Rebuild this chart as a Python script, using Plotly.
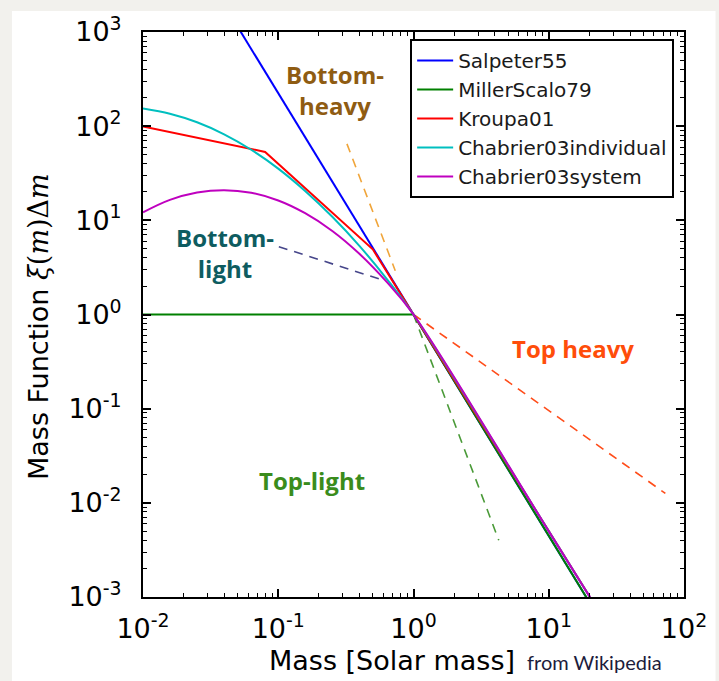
import plotly.graph_objects as go

# ---------------- data ----------------
mass_salpeter = [0.01, 100.0]
xi_salpeter = [50119.0, 1.995e-5]

mass_millerscalo = [0.01, 1.0, 100.0]
xi_millerscalo = [1.0, 1.0, 1.995e-5]

mass_kroupa = [0.01, 0.08, 0.5, 100.0]
xi_kroupa = [99.5, 53.3, 4.92, 2.51e-5]

mass_chabrier = [0.01, 0.0158, 0.0251, 0.0398, 0.0631, 0.1, 0.158, 0.251,
                 0.398, 0.631, 1.0, 10.0, 100.0]
xi_chabrier_ind = [153.7, 135.6, 110.0, 82.0, 56.2, 35.4, 20.5, 10.9,
                   5.36, 2.41, 1.0, 5.01e-3, 2.51e-5]
xi_chabrier_sys = [12.15, 16.47, 19.74, 20.93, 19.61, 16.24, 11.90, 7.71,
                   4.41, 2.23, 1.0, 5.01e-3, 2.51e-5]

# guide (dashed) lines
mass_bottom_heavy = [0.322, 0.733]
xi_bottom_heavy = [64.9, 2.92]
mass_bottom_light = [0.101, 0.61]
xi_bottom_light = [5.25, 2.29]
mass_top_heavy = [1.0, 72.8]
xi_top_heavy = [1.0, 0.0126]
mass_top_light = [1.0, 4.27]
xi_top_light = [1.0, 0.0040]

series_names = ["Salpeter55", "MillerScalo79", "Kroupa01",
                "Chabrier03individual", "Chabrier03system"]
x_tick_vals = [0.01, 0.1, 1, 10, 100]
x_tick_text = ["10<sup>-2</sup>", "10<sup>-1</sup>", "10<sup>0</sup>",
               "10<sup>1</sup>", "10<sup>2</sup>"]
y_tick_vals = [0.001, 0.01, 0.1, 1, 10, 100, 1000]
y_tick_text = ["10<sup>-3</sup>", "10<sup>-2</sup>", "10<sup>-1</sup>",
               "10<sup>0</sup>", "10<sup>1</sup>", "10<sup>2</sup>",
               "10<sup>3</sup>"]

# ---------------- layout geometry ----------------
W, H = 719, 681
L, R, T, B = 143, 692, 31, 597


def px(x):
    return (x - L) / (R - L)


def py(y):
    return (B - y) / (B - T)


fig = go.Figure()

colors = ["#0000ff", "#008000", "#ff0000", "#00bfbf", "#bf00bf"]

# dashed guides
for xs, ys, col in [(mass_bottom_heavy, xi_bottom_heavy, "#f0a53a"),
                    (mass_bottom_light, xi_bottom_light, "#46468a"),
                    (mass_top_heavy, xi_top_heavy, "#ff4d1a"),
                    (mass_top_light, xi_top_light, "#4a9a38")]:
    fig.add_trace(go.Scatter(x=xs, y=ys, mode="lines", showlegend=False,
                             line=dict(color=col, width=1.6, dash="9px,7px"),
                             hoverinfo="skip"))

fig.add_trace(go.Scatter(x=mass_salpeter, y=xi_salpeter, mode="lines",
                         name=series_names[0], legendgroup="a",
                         line=dict(color=colors[0], width=2)))
fig.add_trace(go.Scatter(x=mass_millerscalo, y=xi_millerscalo, mode="lines",
                         name=series_names[1], legendgroup="b",
                         line=dict(color=colors[1], width=2)))
fig.add_trace(go.Scatter(x=mass_kroupa, y=xi_kroupa, mode="lines",
                         name=series_names[2], legendgroup="c",
                         line=dict(color=colors[2], width=2)))
fig.add_trace(go.Scatter(x=mass_chabrier, y=xi_chabrier_ind, mode="lines",
                         name=series_names[3], legendgroup="d",
                         line=dict(color=colors[3], width=2, shape="spline")))
fig.add_trace(go.Scatter(x=mass_chabrier, y=xi_chabrier_sys, mode="lines",
                         name=series_names[4], legendgroup="e",
                         line=dict(color=colors[4], width=2, shape="spline")))

axis_common = dict(
    type="log", showgrid=False, zeroline=False,
    showline=True, linecolor="black", linewidth=2, mirror="allticks",
    ticks="inside", ticklen=8, tickwidth=1.5, tickcolor="black",
    tickmode="array",
    tickfont=dict(family="DejaVu Sans", size=27, color="black"),
    minor=dict(ticks="inside", ticklen=4, tickwidth=1, tickcolor="black",
               dtick="D1", showgrid=False),
)

fig.update_layout(
    width=W, height=H,
    margin=dict(l=L, r=W - R, t=T, b=H - B),
    paper_bgcolor="#f2f1ed",
    plot_bgcolor="white",
    xaxis=dict(axis_common, range=[-2, 2], tickvals=x_tick_vals,
               ticktext=x_tick_text, ticklabelstandoff=7),
    yaxis=dict(axis_common, range=[-3, 3], tickvals=y_tick_vals,
               ticktext=y_tick_text, ticklabelstandoff=14),
    legend=dict(x=px(682), y=py(38), xanchor="right", yanchor="top",
                bgcolor="white", bordercolor="black", borderwidth=2,
                font=dict(family="DejaVu Sans", size=20, color="#1a1a1a"),
                tracegroupgap=0, itemwidth=36),
    showlegend=True,
)

# white panel
fig.add_shape(type="rect", xref="paper", yref="paper",
              x0=px(10), x1=px(W + 5), y0=py(H + 5), y1=py(10),
              fillcolor="white", line=dict(width=0), layer="below")

ann_font = "Open Sans"
annotations = [
    ("<b>Bottom-<br>heavy</b>", 338, 89, "#8f5c12", 24),
    ("<b>Bottom-<br>light</b>", 226, 252, "#0e5c60", 24),
    ("<b>Top heavy</b>", 579, 348, "#ff4d0a", 24),
    ("<b>Top-light</b>", 315, 480, "#3a8c1c", 24),
]
for text, x, y, col, size in annotations:
    fig.add_annotation(text=text, x=px(x), y=py(y), xref="paper", yref="paper",
                       showarrow=False, xanchor="center", yanchor="middle",
                       font=dict(family=ann_font, size=size, color=col))

fig.add_annotation(text="Mass [Solar mass]", x=px(396), y=py(661),
                   xref="paper", yref="paper", showarrow=False,
                   xanchor="center", yanchor="middle",
                   font=dict(family="DejaVu Sans", size=27, color="black"))
fig.add_annotation(text="from Wikipedia", x=px(601), y=py(662),
                   xref="paper", yref="paper", showarrow=False,
                   xanchor="center", yanchor="middle",
                   font=dict(family="Lato", size=20, color="#1c1c3c"))
fig.add_annotation(
    text="Mass Function <span style='font-family:DejaVu Serif'><i>ξ</i>(<i>m</i>)Δ<i>m</i></span>",
    x=px(37), y=py(326), xref="paper", yref="paper", showarrow=False,
    textangle=-90, xanchor="center", yanchor="middle",
    font=dict(family="DejaVu Sans", size=27, color="black"))

fig.write_html("out.html")
